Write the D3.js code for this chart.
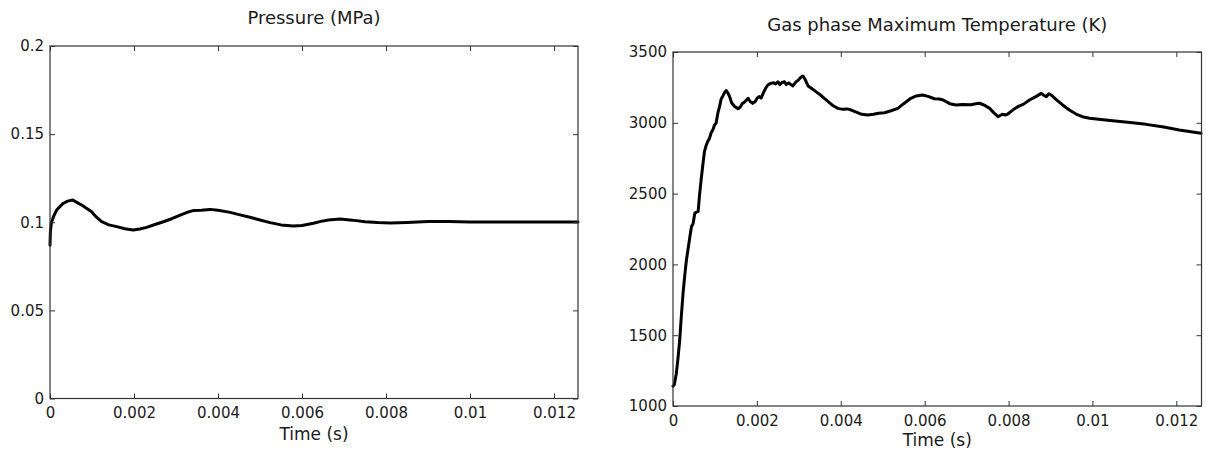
<!DOCTYPE html>
<html>
<head>
<meta charset="utf-8">
<script src="https://cdn.jsdelivr.net/npm/d3@7"></script>
<style>
  html, body { margin: 0; padding: 0; background: #fff; }
  svg { display: block; }
  text { font-family: "DejaVu Sans", Verdana, sans-serif; fill: #1a1a1a; }
</style>
</head>
<body>
<svg id="chart" width="1206" height="452"></svg>
<script>
// ---------- data ----------
const timeTicks = [0, 0.002, 0.004, 0.006, 0.008, 0.01, 0.012];
const timeTickLabels = ["0", "0.002", "0.004", "0.006", "0.008", "0.01", "0.012"];
const pressureTicks = [0, 0.05, 0.1, 0.15, 0.2];
const pressureTickLabels = ["0", "0.05", "0.1", "0.15", "0.2"];
const tempTicks = [1000, 1500, 2000, 2500, 3000, 3500];
const tempTickLabels = ["1000", "1500", "2000", "2500", "3000", "3500"];

const pressureTime = [0, 0.00001, 0.00003, 0.00008, 0.00016, 0.00024, 0.00032, 0.00042, 0.00054, 0.00066,
  0.00079, 0.00099, 0.0011, 0.00123, 0.0014, 0.00159, 0.00178, 0.00198, 0.00214, 0.0023,
  0.0025, 0.0027, 0.0029, 0.0031, 0.00325, 0.00341, 0.0036, 0.00381, 0.004, 0.00429,
  0.0045, 0.00476, 0.005, 0.00524, 0.0055, 0.00579, 0.006, 0.00627, 0.00645, 0.00663,
  0.0069, 0.0072, 0.0075, 0.0078, 0.0081, 0.0085, 0.009, 0.0095, 0.01, 0.011, 0.012, 0.01257];
const pressureValues = [0.087, 0.095, 0.0994, 0.103, 0.107, 0.109, 0.1108, 0.112, 0.1126, 0.111,
  0.1092, 0.106, 0.103, 0.1003, 0.0985, 0.0975, 0.0963, 0.0956, 0.0962, 0.0971,
  0.0987, 0.1003, 0.102, 0.1041, 0.1055, 0.1066, 0.1068, 0.1073, 0.1068, 0.1056,
  0.1043, 0.1028, 0.1013, 0.0998, 0.0985, 0.0979, 0.0982, 0.0994, 0.1005, 0.1013,
  0.1018, 0.1012, 0.1003, 0.0998, 0.0996, 0.0999, 0.1004, 0.1004, 0.1002, 0.1001, 0.1001, 0.1001];

const tempTime = [0, 0.00003, 0.00008, 0.00012, 0.00016, 0.0002, 0.00024, 0.00028, 0.00032, 0.00036,
  0.0004, 0.00044, 0.00048, 0.00052, 0.00056, 0.0006, 0.00063, 0.00067, 0.00071, 0.00075,
  0.00079, 0.00083, 0.00087, 0.00091, 0.00095, 0.00099, 0.00103, 0.00107, 0.00111, 0.00115,
  0.00119, 0.00123, 0.00127, 0.00131, 0.00135, 0.0014, 0.00147, 0.00155, 0.0016, 0.00165,
  0.0017, 0.00175, 0.00179, 0.00184, 0.0019, 0.00196, 0.00201, 0.00206, 0.0021, 0.00216,
  0.00221, 0.00226, 0.00232, 0.0024, 0.00245, 0.0025, 0.00255, 0.0026, 0.00266, 0.0027,
  0.00276, 0.00282, 0.00286, 0.00292, 0.003, 0.00306, 0.0031, 0.00316, 0.00322, 0.0033,
  0.0034, 0.0035, 0.00361, 0.00372, 0.00382, 0.00393, 0.00405, 0.00415, 0.00425, 0.00437,
  0.0045, 0.00464, 0.00478, 0.0049, 0.00504, 0.0052, 0.00536, 0.0055, 0.00567, 0.0058,
  0.00595, 0.0061, 0.00623, 0.00635, 0.00644, 0.0066, 0.00675, 0.0069, 0.0071, 0.00722,
  0.00731, 0.00742, 0.00755, 0.00765, 0.00775, 0.00785, 0.00792, 0.00798, 0.0081, 0.00822,
  0.00835, 0.0085, 0.00865, 0.00878, 0.00884, 0.0089, 0.00896, 0.00902, 0.00915, 0.00929,
  0.00945, 0.00961, 0.00976, 0.00993, 0.0102, 0.01048, 0.0109, 0.01128, 0.0117, 0.01207, 0.01259];
const tempValues = [1140, 1150, 1230, 1340, 1466, 1640, 1798, 1920, 2031, 2110,
  2190, 2266, 2290, 2361, 2370, 2375, 2480, 2596, 2700, 2796,
  2840, 2870, 2890, 2930, 2950, 2984, 3000, 3070, 3114, 3170,
  3190, 3215, 3227, 3210, 3184, 3140, 3115, 3100, 3110, 3135,
  3145, 3160, 3173, 3150, 3137, 3150, 3175, 3185, 3175, 3215,
  3245, 3267, 3278, 3283, 3275, 3290, 3270, 3285, 3290, 3270,
  3282, 3268, 3260, 3285, 3305, 3325, 3330, 3300, 3260, 3244,
  3222, 3200, 3173, 3145, 3120, 3102, 3095, 3098, 3090, 3075,
  3060, 3055, 3060, 3068, 3071, 3085, 3102, 3135, 3173, 3190,
  3196, 3185, 3170, 3168, 3161, 3135, 3126, 3130, 3128, 3135,
  3138, 3125, 3102, 3070, 3043, 3060, 3055, 3062, 3090, 3114,
  3130, 3161, 3185, 3208, 3195, 3184, 3205, 3196, 3160, 3126,
  3090, 3062, 3043, 3032, 3024, 3015, 3002, 2989, 2970, 2949, 2926];

// ---------- drawing ----------
const svg = d3.select("#chart");

function panel(cfg) {
  const x = d3.scaleLinear().domain([0, cfg.xMax]).range([cfg.left, cfg.right]);
  const y = d3.scaleLinear().domain(cfg.yDomain).range([cfg.bottom, cfg.top]);
  const g = svg.append("g");
  const tickCol = "#333";

  // data line
  const pts = cfg.xs.map((t, i) => [t, cfg.ys[i]]);
  g.append("path")
    .datum(pts)
    .attr("fill", "none")
    .attr("stroke", "#000")
    .attr("stroke-width", 3)
    .attr("stroke-linejoin", "round")
    .attr("stroke-linecap", "round")
    .attr("d", d3.line().x(d => x(d[0])).y(d => y(d[1])));

  const fmtX = d => cfg.xLabels[cfg.xTicks.indexOf(d)];
  const fmtY = d => cfg.yLabels[cfg.yTicks.indexOf(d)];

  // bottom axis
  const gb = g.append("g").attr("transform", `translate(0,${cfg.bottom})`)
    .call(d3.axisBottom(x).tickValues(cfg.xTicks).tickFormat(fmtX).tickSize(-5).tickSizeOuter(0).tickPadding(9));
  // top axis
  const gt = g.append("g").attr("transform", `translate(0,${cfg.top})`)
    .call(d3.axisTop(x).tickValues(cfg.xTicks).tickFormat("").tickSize(-5).tickSizeOuter(0));
  // left axis
  const gl = g.append("g").attr("transform", `translate(${cfg.left},0)`)
    .call(d3.axisLeft(y).tickValues(cfg.yTicks).tickFormat(fmtY).tickSize(-5).tickSizeOuter(0).tickPadding(6));
  // right axis
  const gr = g.append("g").attr("transform", `translate(${cfg.right},0)`)
    .call(d3.axisRight(y).tickValues(cfg.yTicks).tickFormat("").tickSize(-5).tickSizeOuter(0));

  [gb, gt, gl, gr].forEach(a => {
    a.select(".domain").remove();
    a.selectAll(".tick line").attr("stroke", tickCol).attr("stroke-width", 1);
    a.selectAll("text").attr("font-size", 15).attr("fill", "#1a1a1a")
      .attr("font-family", "DejaVu Sans, Verdana, sans-serif");
  });

  // frame
  g.append("rect")
    .attr("x", cfg.left).attr("y", cfg.top)
    .attr("width", cfg.right - cfg.left).attr("height", cfg.bottom - cfg.top)
    .attr("fill", "none").attr("stroke", tickCol).attr("stroke-width", 1.2);

  // title
  g.append("text")
    .attr("x", (cfg.left + cfg.right) / 2).attr("y", cfg.titleY)
    .attr("text-anchor", "middle").attr("font-size", 18)
    .text(cfg.title);
  // x label
  g.append("text")
    .attr("x", (cfg.left + cfg.right) / 2).attr("y", cfg.xLabelY)
    .attr("text-anchor", "middle").attr("font-size", 17)
    .text("Time (s)");
}

panel({
  left: 50, right: 578, top: 46, bottom: 398.5,
  xMax: 0.012571, yDomain: [0, 0.2],
  xs: pressureTime, ys: pressureValues,
  xTicks: timeTicks, xLabels: timeTickLabels,
  yTicks: pressureTicks, yLabels: pressureTickLabels,
  title: "Pressure (MPa)", titleY: 24, xLabelY: 440
});

panel({
  left: 673, right: 1201.5, top: 52, bottom: 406,
  xMax: 0.0126, yDomain: [1000, 3500],
  xs: tempTime, ys: tempValues,
  xTicks: timeTicks, xLabels: timeTickLabels,
  yTicks: tempTicks, yLabels: tempTickLabels,
  title: "Gas phase Maximum Temperature (K)", titleY: 30.5, xLabelY: 446
});
</script>
</body>
</html>
